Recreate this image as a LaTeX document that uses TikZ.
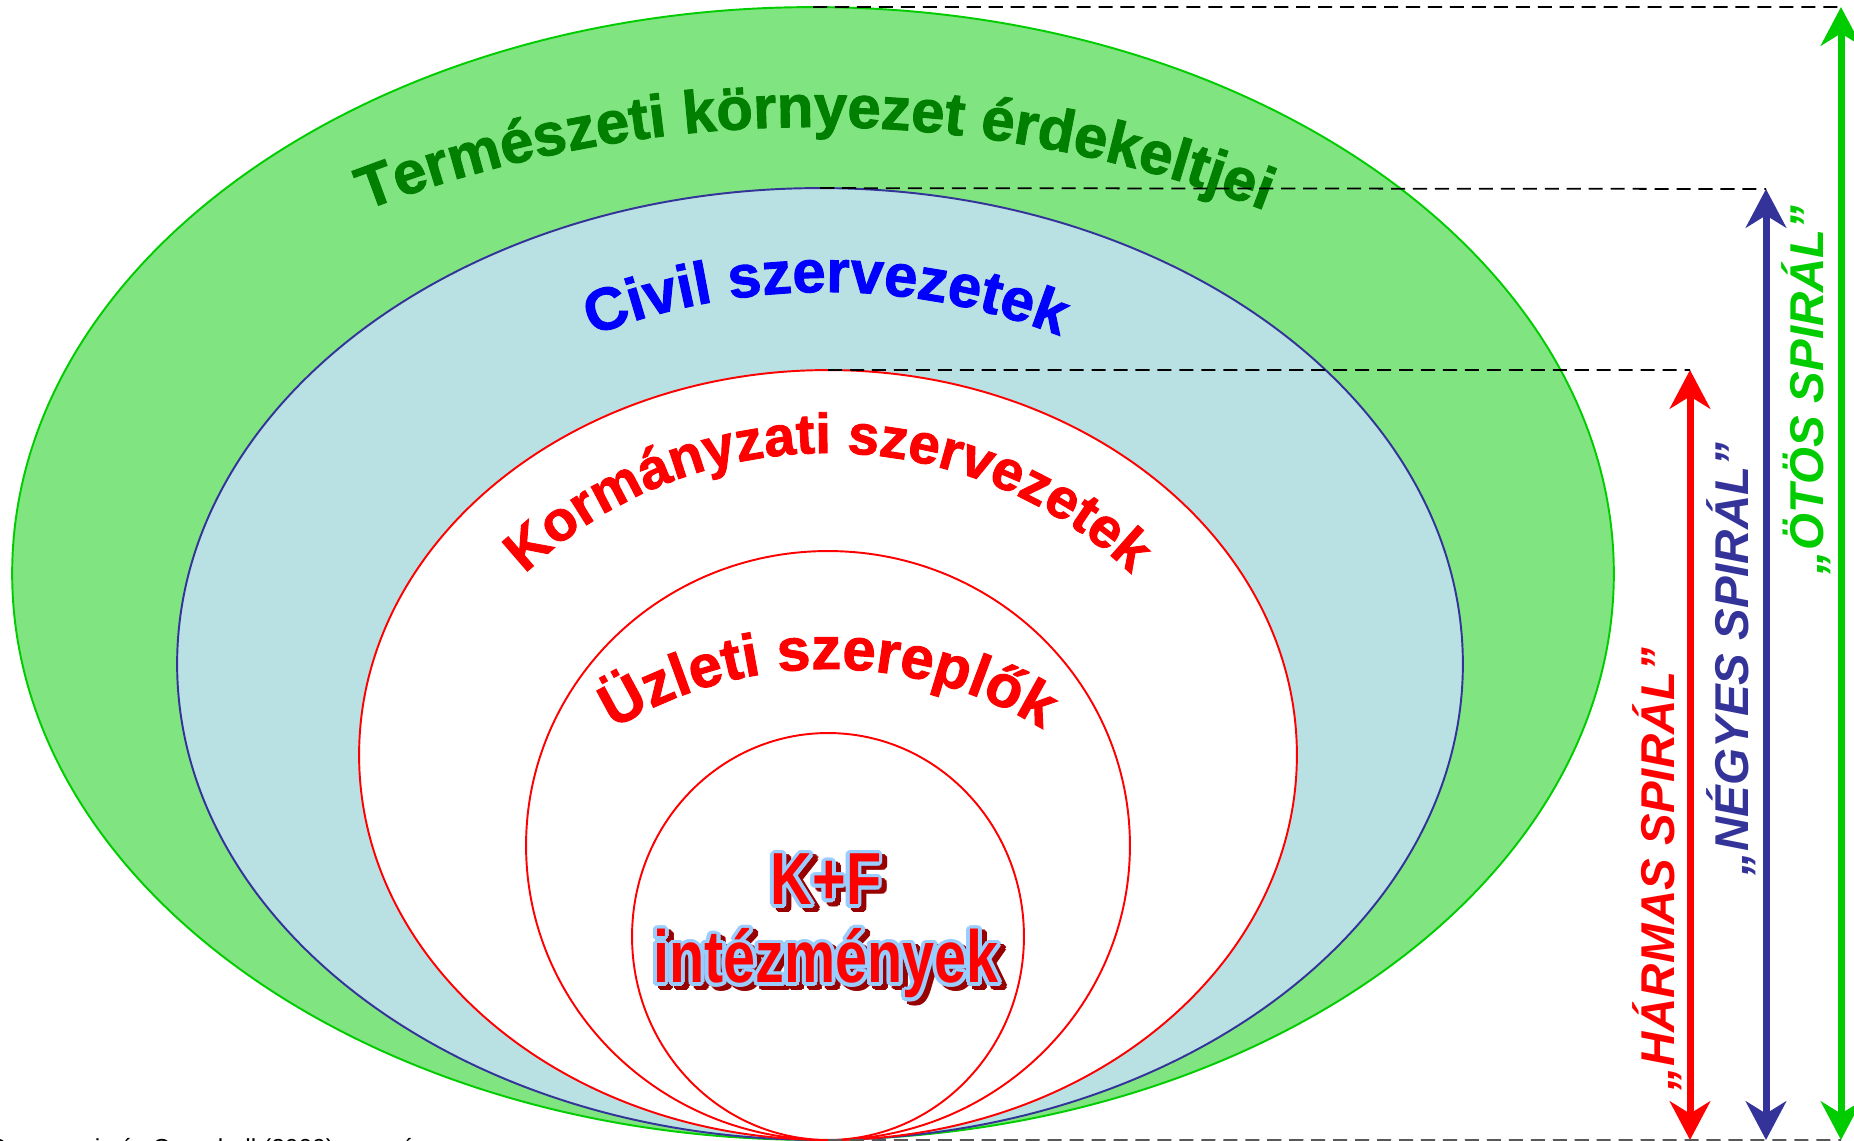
\documentclass[tikz,border=0pt]{standalone}
\usepackage{fontspec}
\setmainfont{Liberation Sans}
\newfontface\arcfont[FakeBold=1.6]{Liberation Sans Bold}
\newfontface\kffont[FakeStretch=0.78]{Liberation Sans Bold}
\newfontface\spiralfont{Liberation Sans Bold Italic}
\usepackage[copies]{contour}
\contourlength{0.9pt}
\usetikzlibrary{shapes.geometric,arrows.meta,decorations.text}

\definecolor{termfill}{HTML}{80E480}
\definecolor{termline}{HTML}{00CC00}
\definecolor{termtext}{HTML}{007F00}
\definecolor{civfill}{HTML}{B9E0E3}
\definecolor{civline}{HTML}{333399}
\definecolor{civtext}{HTML}{0000FF}
\definecolor{kfblue}{HTML}{99CCFF}
\definecolor{kfdark}{HTML}{990000}

\newcommand\tallchar[1]{\scalebox{1}[1.2]{\contour{black}{#1}}}
\newcommand\archterm{\arcfont\fontsize{34}{34}\selectfont\color{termtext}\tallchar}
\newcommand\archciv{\arcfont\fontsize{34}{34}\selectfont\color{civtext}\tallchar}
\newcommand\archred{\arcfont\fontsize{34}{34}\selectfont\color{red}\tallchar}
\newcommand\archkor{\arcfont\fontsize{32}{32}\selectfont\color{red}\tallchar}

\tikzset{ring/.style={ellipse,draw,inner sep=0pt,outer sep=0pt,line width=1.1pt},
  guide/.style={dash pattern=on 8pt off 4.5pt,line width=1pt},
  spiral/.style={rotate=90,inner sep=0pt,font=\spiralfont\fontsize{27}{27}\selectfont},
  spiral arrow/.style={line width=4pt,
    {Stealth[length=22pt,width=23pt,inset=7pt]}-{Stealth[length=22pt,width=23pt,inset=7pt]}},
  kfword/.style={anchor=base,inner sep=0pt,font=\kffont\fontsize{42}{42}\selectfont}}

\begin{document}
\begin{tikzpicture}[x=0.02cm,y=-0.02cm]
\useasboundingbox (0,0) rectangle (1854,1141);

% nested fields
\node[ring,draw=termline,fill=termfill,minimum width=32.04cm,minimum height=22.66cm] (term) at (813,573.5) {};
\node[ring,draw=civline,fill=civfill,minimum width=25.72cm,minimum height=19.04cm] (civ) at (820,664) {};
\node[ring,draw=red,fill=white,minimum width=18.76cm,minimum height=15.4cm] (kor) at (828,755) {};
\node[ring,draw=red,fill=white,minimum width=12.08cm,minimum height=11.78cm] (uzl) at (828,845.5) {};
\node[ring,draw=red,fill=white,minimum width=7.84cm,minimum height=8.14cm] (kf) at (828,936.5) {};

% arched titles
\path[decorate,decoration={text along path,text align=center,
  text={|\archterm|Természeti környezet érdekeltjei}}]
  (815,1381) ++(-120:1254) arc[start angle=-120,end angle=-60,radius=1254];
\path[decorate,decoration={text along path,text align=center,
  text={|\archciv|Civil szervezetek}}]
  (826,936) ++(-120:644) arc[start angle=-120,end angle=-60,radius=644];
\path[decorate,decoration={text along path,text align=center,
  text={|\archkor|Kormányzati szervezetek}}]
  (828,893) ++(-145:440) arc[start angle=-145,end angle=-35,radius=440];
\path[decorate,decoration={text along path,text align=center,
  text={|\archred|Üzleti szereplők}}]
  (828,1081) ++(-135:412) arc[start angle=-135,end angle=-45,radius=412];

% K+F
\node[kfword,text=kfdark] (kfshade1) at (831,909) {\contourlength{2.2pt}\contour{kfdark}{K+F}};
\node[kfword,text=kfdark] (kfshade2) at (831,987) {\contourlength{2.2pt}\contour{kfdark}{intézmények}};
\node[kfword,text=red] (kfname1) at (826,905) {\contourlength{2.2pt}\contour{kfblue}{K+F}};
\node[kfword,text=red] (kfname2) at (826,983) {\contourlength{2.2pt}\contour{kfblue}{intézmények}};

% spirals
\coordinate (h_top) at (1690,370);
\coordinate (h_bot) at (1690,1140);
\coordinate (n_top) at (1766,189);
\coordinate (n_bot) at (1766,1140);
\coordinate (o_top) at (1841,7);
\coordinate (o_bot) at (1841,1140);
\draw[spiral arrow,red] (h_bot) -- (h_top);
\draw[spiral arrow,civline] (n_bot) -- (n_top);
\draw[spiral arrow,termline] (o_bot) -- (o_top);
\node[spiral,text=red] (harmas) at (1657,869) {„HÁRMAS SPIRÁL”};
\node[spiral,text=civline] (negyes) at (1731,659) {„NÉGYES SPIRÁL”};
\node[spiral,text=termline] (otos) at (1806,390) {„ÖTÖS SPIRÁL”};

\draw[guide] (term.north) -- (o_top);
\draw[guide] (civ.north) -- (n_top);
\draw[guide] (kor.north) -- (h_top);
\draw[guide,black!65] (kf.south) -- (o_bot);

\node[anchor=base west,inner sep=0pt,font=\fontsize{14}{14}\selectfont] (src) at (-12,1156) {Carayannis és Campbell (2009) nyomán};
\end{tikzpicture}
\end{document}
